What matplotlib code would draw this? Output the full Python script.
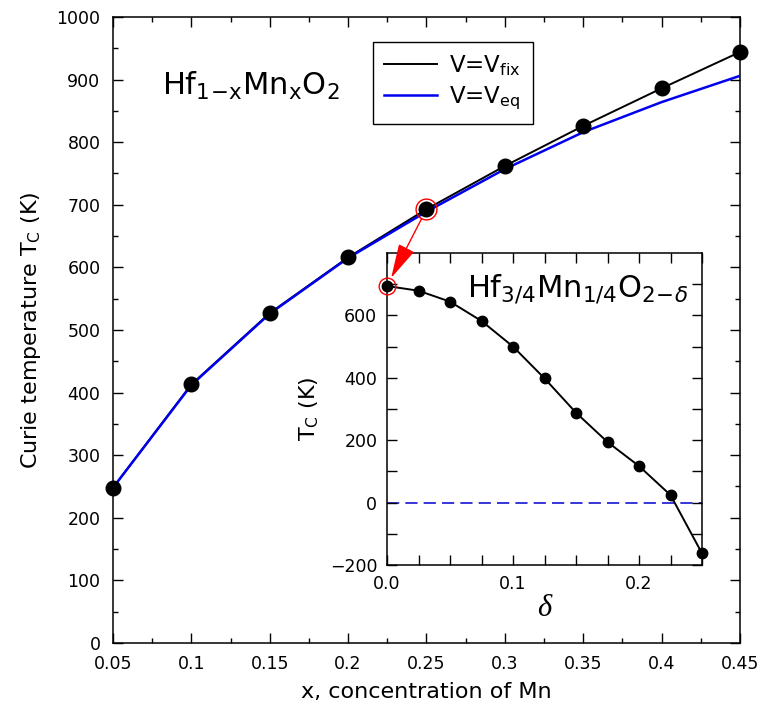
import matplotlib
matplotlib.use('Agg')
import matplotlib.pyplot as plt
from matplotlib.patches import ConnectionPatch
from matplotlib.ticker import MultipleLocator

plt.rcParams['font.family'] = ['DejaVu Sans']
plt.rcParams['mathtext.default'] = 'regular'

# --- data ---
x_mn = [0.05, 0.10, 0.15, 0.20, 0.25, 0.30, 0.35, 0.40, 0.45]
tc_fix = [248, 413, 527, 616, 693, 762, 826, 886, 944]
tc_eq = [248, 412, 526, 615, 689, 757, 816, 864, 906]

delta = [0.0, 0.025, 0.05, 0.075, 0.10, 0.125, 0.15, 0.175, 0.20, 0.225, 0.25]
tc_delta = [694, 679, 644, 582, 500, 398, 288, 194, 117, 24, -163]

x_ticks = [0.05, 0.1, 0.15, 0.2, 0.25, 0.3, 0.35, 0.4, 0.45]
x_ticklabels = ['0.05', '0.1', '0.15', '0.2', '0.25', '0.3', '0.35', '0.4', '0.45']
y_ticks = [0, 100, 200, 300, 400, 500, 600, 700, 800, 900, 1000]
in_x_ticks = [0.0, 0.1, 0.2]
in_x_ticklabels = ['0.0', '0.1', '0.2']
in_y_ticks = [-200, 0, 200, 400, 600]

# --- figure ---
fig = plt.figure(figsize=(7.65, 7.16), dpi=100)
ax = fig.add_axes([0.1477, 0.102, 0.8196, 0.8743])

ax.plot(x_mn, tc_fix, color='black', lw=1.4, label=r'V=V$_{fix}$', zorder=2)
ax.plot(x_mn, tc_eq, color='#0000ee', lw=1.8, label=r'V=V$_{eq}$', zorder=3)
ax.plot(x_mn, tc_fix, 'o', color='black', ms=10.5, zorder=4, clip_on=False)
ax.plot([x_mn[4]], [tc_fix[4]], 'o', mfc='none', mec='red', ms=15, mew=1.0, zorder=5)

ax.set_xlim(0.05, 0.45)
ax.set_ylim(0, 1000)
ax.set_xticks(x_ticks)
ax.set_xticklabels(x_ticklabels)
ax.set_yticks(y_ticks)
ax.xaxis.set_minor_locator(MultipleLocator(0.025))
ax.yaxis.set_minor_locator(MultipleLocator(50))
ax.tick_params(which='both', direction='in', top=True, right=True, width=1.0)
ax.tick_params(which='major', length=7, labelsize=12.5, pad=9)
ax.tick_params(which='minor', length=3.5)
for s in ax.spines.values():
    s.set_linewidth(1.1)

ax.set_xlabel('x, concentration of Mn', fontsize=16, labelpad=6)
ax.set_ylabel(r'Curie temperature T$_C$ (K)', fontsize=16, labelpad=10)

ax.text(0.078, 0.875, r'Hf$_{1\!-\!x}$Mn$_x$O$_2$', transform=ax.transAxes,
        fontsize=22, va='baseline', ha='left')

leg = ax.legend(loc='upper left', bbox_to_anchor=(0.414, 0.9605), fontsize=16.5,
                frameon=True, fancybox=False, framealpha=1, edgecolor='black',
                handlelength=2.3, handletextpad=0.55, borderpad=0.5, labelspacing=0.3,
                borderaxespad=0)
leg.get_frame().set_linewidth(1.0)

# --- inset ---
ins = fig.add_axes([0.5059, 0.2109, 0.4118, 0.4358])
ins.axhline(0, color='#0000cc', lw=1.1, ls=(0, (8, 4)), zorder=1)
ins.plot(delta, tc_delta, '-o', color='black', lw=1.4, ms=7.5, zorder=3, clip_on=False)
ins.plot([delta[0]], [tc_delta[0]], 'o', mfc='none', mec='red', ms=12, mew=1.0,
         zorder=4, clip_on=False)

ins.set_xlim(0, 0.25)
ins.set_ylim(-200, 800)
ins.set_xticks(in_x_ticks)
ins.set_xticklabels(in_x_ticklabels)
ins.set_yticks(in_y_ticks)
ins.xaxis.set_minor_locator(MultipleLocator(0.025))
ins.set_yticks([-100, 100, 300, 500, 700], minor=True)
ins.tick_params(which='both', direction='in', top=True, right=True, width=1.0)
ins.tick_params(which='major', length=7, labelsize=12.5, pad=7)
ins.tick_params(which='minor', length=7)
for s in ins.spines.values():
    s.set_linewidth(1.1)

ins.set_xlabel('\u03b4', fontsize=22, family='Liberation Serif', style='italic', labelpad=1)
ins.set_ylabel(r'T$_C$ (K)', fontsize=16, labelpad=6)
ins.text(0.253, 0.86, r'Hf$_{3/4}$Mn$_{1/4}$O$_{2\!-\!\mathit{\delta}}$', transform=ins.transAxes,
         fontsize=22, va='baseline', ha='left')

# --- arrow from main point to inset point ---
arrow = ConnectionPatch(xyA=(x_mn[4], tc_fix[4]), coordsA=ax.transData,
                        xyB=(delta[0], tc_delta[0]), coordsB=ins.transData,
                        arrowstyle='-|>,head_length=1.8,head_width=0.45',
                        mutation_scale=12, color='red', lw=1.0,
                        shrinkA=7.5, shrinkB=6.5, zorder=10)
fig.add_artist(arrow)

fig.savefig('out.png', dpi=100)
